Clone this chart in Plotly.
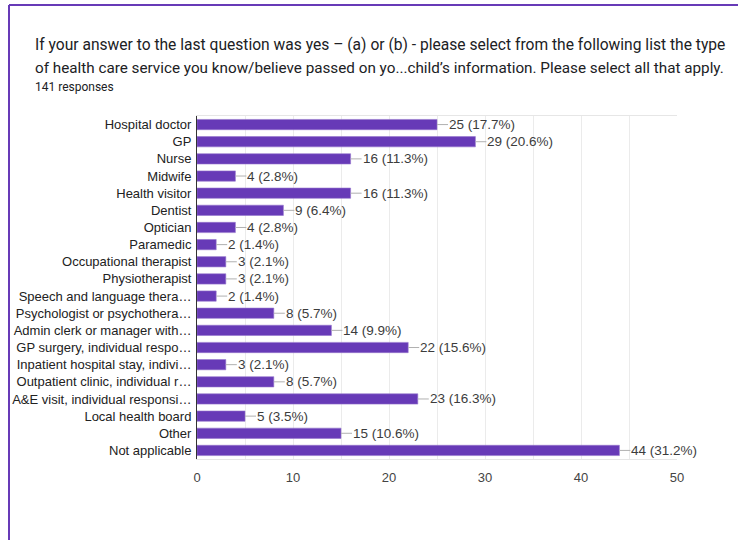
import plotly.graph_objects as go

# Survey responses: type of health care service
categories = [
    "Hospital doctor", "GP", "Nurse", "Midwife", "Health visitor", "Dentist",
    "Optician", "Paramedic", "Occupational therapist", "Physiotherapist",
    "Speech and language thera…", "Psychologist or psychothera…",
    "Admin clerk or manager with…", "GP surgery, individual respo…",
    "Inpatient hospital stay, indivi…", "Outpatient clinic, individual r…",
    "A&E visit, individual responsi…", "Local health board", "Other",
    "Not applicable",
]
counts = [25, 29, 16, 4, 16, 9, 4, 2, 3, 3, 2, 8, 14, 22, 3, 8, 23, 5, 15, 44]
total_responses = 141
x_ticks = [0, 10, 20, 30, 40, 50]

title_line1 = ("If your answer to the last question was yes \u2013 (a) or (b) - please select "
               "from the following list the type")
title_line2 = ("of health care service you know/believe passed on yo...child\u2019s information. "
               "Please select all that apply.")
subtitle = f"{total_responses} responses"

W, H = 738, 540
ML, MR, MT, MB = 197, 61, 116, 81
PW, PH = W - ML - MR, H - MT - MB


def px(x):
    return (x - ML) / PW


def py(y):
    return (H - MB - y) / PH


PURPLE = "#673ab7"

fig = go.Figure()
fig.add_trace(go.Bar(
    x=counts, y=categories, orientation="h",
    marker=dict(color=PURPLE, line=dict(color="#9575cd", width=0.6)),
    width=0.6, hoverinfo="skip",
))

annotations = []
for c, v in zip(categories, counts):
    pct = round(v / total_responses * 100, 1)
    annotations.append(dict(
        x=v, y=c, xref="x", yref="y", text=f"{v} ({pct}%)",
        showarrow=True, arrowhead=0, arrowwidth=1, arrowcolor="#b0b0b0",
        ax=11, ay=0, xanchor="left", borderpad=0,
        font=dict(family="Liberation Sans, Arial", size=13.5, color="#3c3c3c"),
    ))

for text, y, size in [(title_line1, 45, 15.6), (title_line2, 68, 15.25), (subtitle, 87, 12)]:
    annotations.append(dict(
        x=px(33), y=py(y), xref="paper", yref="paper", text=text,
        showarrow=False, xanchor="left", yanchor="middle",
        font=dict(family="Roboto", size=size, color="#202124"),
    ))

shapes = [
    dict(type="line", xref="paper", yref="paper", x0=px(9), x1=px(740),
         y0=py(5), y1=py(5), line=dict(color=PURPLE, width=2)),
    dict(type="line", xref="paper", yref="paper", x0=px(9), x1=px(9),
         y0=py(5), y1=py(542), line=dict(color=PURPLE, width=2)),
]

fig.update_layout(
    width=W, height=H,
    margin=dict(l=ML, r=MR, t=MT, b=MB),
    paper_bgcolor="white", plot_bgcolor="white",
    showlegend=False,
    annotations=annotations, shapes=shapes,
    xaxis=dict(
        range=[0, 50], tickvals=x_ticks, showgrid=True, gridcolor="#ebebeb",
        minor=dict(dtick=5, showgrid=True, gridcolor="#ebebeb"),
        zeroline=False, showline=True, linecolor="#e6e6e6", mirror=True,
        tickfont=dict(family="Liberation Sans, Arial", size=13, color="#444444"),
        ticks="", ticklabelstandoff=6, fixedrange=True,
    ),
    yaxis=dict(
        autorange="reversed", showgrid=False, zeroline=False,
        showline=True, linecolor="#333333", linewidth=1,
        tickfont=dict(family="Liberation Sans, Arial", size=13, color="#222222"),
        ticks="", ticklabelstandoff=2, fixedrange=True,
    ),
)

fig.write_html("out.html")
